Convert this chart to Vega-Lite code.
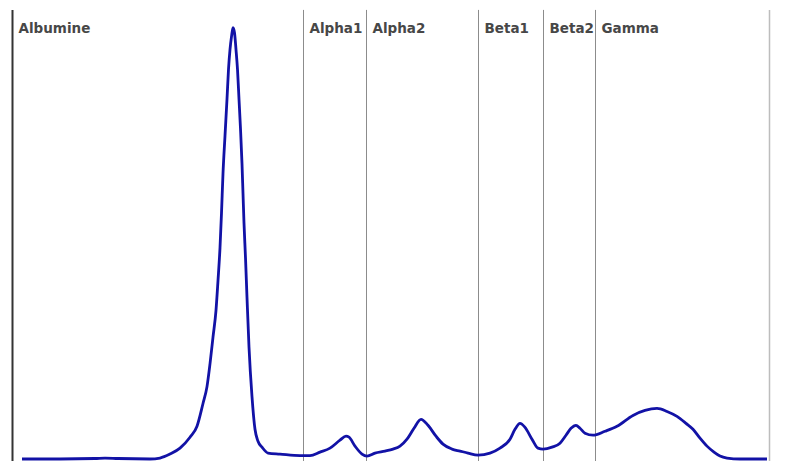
{
  "$schema": "https://vega.github.io/schema/vega-lite/v6.json",
  "width": 795,
  "height": 465,
  "padding": 0,
  "autosize": {"type": "fit", "contains": "padding"},
  "background": "white",
  "config": {"view": {"stroke": null}},
  "datasets": {
    "curve": [
      {"pos": 22, "v": 2}, {"pos": 60, "v": 2}, {"pos": 95, "v": 2.5}, {"pos": 105, "v": 3}, {"pos": 118, "v": 2.5},
      {"pos": 150, "v": 2}, {"pos": 160, "v": 3}, {"pos": 170, "v": 7}, {"pos": 180, "v": 13}, {"pos": 190, "v": 24},
      {"pos": 197, "v": 35}, {"pos": 203, "v": 58}, {"pos": 207, "v": 75}, {"pos": 210, "v": 98}, {"pos": 213, "v": 125},
      {"pos": 216, "v": 152}, {"pos": 218, "v": 182}, {"pos": 220, "v": 215}, {"pos": 221.5, "v": 250}, {"pos": 223, "v": 290},
      {"pos": 225, "v": 328}, {"pos": 227, "v": 365}, {"pos": 228.5, "v": 395}, {"pos": 230, "v": 415},
      {"pos": 231.5, "v": 428}, {"pos": 233, "v": 437}, {"pos": 234.5, "v": 432}, {"pos": 236, "v": 415}, {"pos": 237.5, "v": 395},
      {"pos": 239, "v": 365}, {"pos": 240.5, "v": 335}, {"pos": 242, "v": 300}, {"pos": 243, "v": 270},
      {"pos": 244, "v": 240}, {"pos": 245.5, "v": 205}, {"pos": 247, "v": 165}, {"pos": 249, "v": 115}, {"pos": 252, "v": 65},
      {"pos": 255, "v": 32}, {"pos": 258, "v": 20}, {"pos": 262, "v": 14}, {"pos": 268, "v": 8}, {"pos": 280, "v": 7},
      {"pos": 300, "v": 5.5}, {"pos": 310, "v": 5.5}, {"pos": 320, "v": 9}, {"pos": 330, "v": 13}, {"pos": 340, "v": 21},
      {"pos": 346, "v": 25}, {"pos": 349, "v": 24}, {"pos": 355, "v": 15}, {"pos": 362, "v": 7}, {"pos": 367, "v": 5},
      {"pos": 375, "v": 8}, {"pos": 385, "v": 10}, {"pos": 393, "v": 12}, {"pos": 400, "v": 15}, {"pos": 407, "v": 22},
      {"pos": 414, "v": 33}, {"pos": 421, "v": 42}, {"pos": 428, "v": 36}, {"pos": 436, "v": 25}, {"pos": 443, "v": 17},
      {"pos": 452, "v": 12}, {"pos": 460, "v": 10}, {"pos": 468, "v": 8}, {"pos": 478, "v": 6}, {"pos": 490, "v": 8},
      {"pos": 500, "v": 13}, {"pos": 510, "v": 22}, {"pos": 515, "v": 32}, {"pos": 520, "v": 38}, {"pos": 525, "v": 34},
      {"pos": 532, "v": 22}, {"pos": 538, "v": 13}, {"pos": 543, "v": 12}, {"pos": 552, "v": 14}, {"pos": 560, "v": 18},
      {"pos": 566, "v": 26}, {"pos": 571, "v": 33}, {"pos": 576, "v": 36}, {"pos": 580, "v": 33}, {"pos": 585, "v": 28},
      {"pos": 593, "v": 26}, {"pos": 605, "v": 30}, {"pos": 617, "v": 35}, {"pos": 633, "v": 46}, {"pos": 645, "v": 51},
      {"pos": 657, "v": 53}, {"pos": 667, "v": 50}, {"pos": 677, "v": 45}, {"pos": 686, "v": 38}, {"pos": 693, "v": 32},
      {"pos": 700, "v": 23}, {"pos": 707, "v": 15}, {"pos": 714, "v": 9}, {"pos": 720, "v": 5}, {"pos": 727, "v": 3},
      {"pos": 740, "v": 2}, {"pos": 767, "v": 2}
    ],
    "fractions": [
      {"fraction": "Albumine", "start": 12.5},
      {"fraction": "Alpha1", "start": 303.5},
      {"fraction": "Alpha2", "start": 366.5},
      {"fraction": "Beta1", "start": 478.5},
      {"fraction": "Beta2", "start": 543.5},
      {"fraction": "Gamma", "start": 595.5}
    ],
    "bounds": [
      {"b": 303.5}, {"b": 366.5}, {"b": 478.5}, {"b": 543.5}, {"b": 595.5}
    ],
    "endbound": [{"b": 769.5}],
    "axisline": [{"b": 12.5}]
  },
  "layer": [
    {
      "data": {"name": "bounds"},
      "mark": {"type": "rule", "color": "#8c8c8c", "strokeWidth": 1},
      "encoding": {
        "x": {"field": "b", "type": "quantitative", "scale": {"domain": [0, 795], "nice": false, "zero": false}, "axis": null},
        "y": {"datum": 0, "type": "quantitative", "scale": {"domain": [0, 465], "nice": false}, "axis": null},
        "y2": {"datum": 455}
      }
    },
    {
      "data": {"name": "endbound"},
      "mark": {"type": "rule", "color": "#bdbdbd", "strokeWidth": 1.5},
      "encoding": {
        "x": {"field": "b", "type": "quantitative"},
        "y": {"datum": 0, "type": "quantitative"},
        "y2": {"datum": 455}
      }
    },
    {
      "data": {"name": "axisline"},
      "mark": {"type": "rule", "color": "#333333", "strokeWidth": 2},
      "encoding": {
        "x": {"field": "b", "type": "quantitative"},
        "y": {"datum": 0, "type": "quantitative"},
        "y2": {"datum": 455}
      }
    },
    {
      "data": {"name": "curve"},
      "mark": {"type": "line", "color": "#1212a6", "strokeWidth": 2.8, "interpolate": "monotone"},
      "encoding": {
        "x": {"field": "pos", "type": "quantitative"},
        "y": {"field": "v", "type": "quantitative"}
      }
    },
    {
      "data": {"name": "fractions"},
      "mark": {"type": "text", "align": "left", "baseline": "alphabetic", "dx": 6, "font": "DejaVu Sans", "fontWeight": "bold", "fontSize": 13.5, "color": "#474747"},
      "encoding": {
        "x": {"field": "start", "type": "quantitative"},
        "y": {"datum": 432, "type": "quantitative"},
        "text": {"field": "fraction"}
      }
    }
  ]
}
